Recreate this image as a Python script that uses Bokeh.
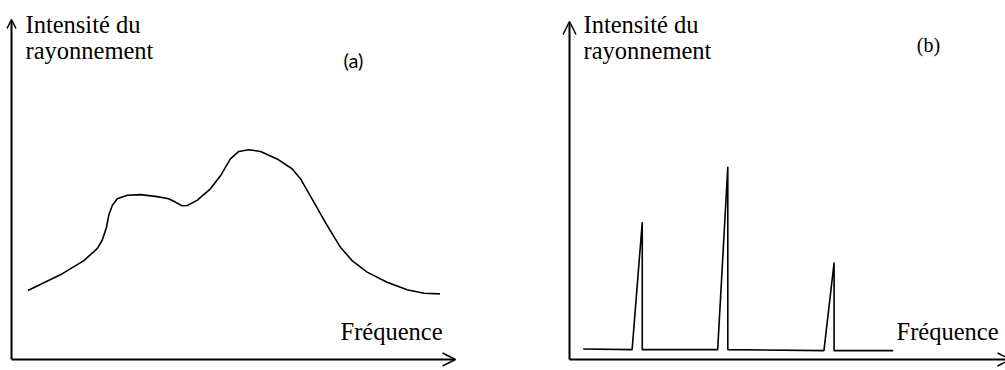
from bokeh.plotting import figure
from bokeh.models import Range1d, Arrow, OpenHead, Label
from bokeh.embed import file_html
from bokeh.resources import INLINE

# ---------------- data (arbitrary units: frequency 0-100, intensity 0-100) -------------
# Panel (a): continuous spectrum
freq_a = [3.7, 11.0, 16.3, 19.3, 20.4, 21.4, 21.9, 22.7, 23.8, 26.1, 29.1, 32.8, 35.4,
          36.9, 38.4, 39.6, 41.8, 44.8, 47.1, 49.3, 51.2, 53.4, 56.1, 59.8, 63.2, 65.1,
          68.1, 71.1, 74.1, 76.7, 80.1, 84.6, 89.1, 92.9, 96.5]
intens_a = [20.3, 24.9, 29.1, 32.6, 35.0, 38.9, 42.4, 45.3, 47.3, 48.3, 48.5, 47.9, 47.3,
            46.3, 45.2, 45.3, 46.8, 50.2, 54.1, 59.0, 61.2, 61.7, 61.2, 59.0, 56.1, 53.1,
            46.3, 39.4, 33.0, 29.1, 25.7, 22.7, 20.5, 19.5, 19.3]

# Panel (b): line spectrum
freq_b = [3.1, 14.2, 16.5, 16.5, 33.6, 35.9, 35.9, 57.7, 60.0, 60.0, 73.4]
intens_b = [3.1, 2.9, 40.4, 2.9, 2.9, 56.7, 2.9, 2.6, 28.5, 2.6, 2.6]

y_label_lines = ["Intensité du", "rayonnement"]
x_label = "Fréquence"
panel_tags = ["(a)", "(b)"]

# ---------------- layout (page pixels) ----------------
W, H = 1005, 370
A_X0, A_X1 = 11, 455     # panel a: frequency 0 -> 100
B_X0, B_X1 = 569, 1010   # panel b: frequency 0 -> 100
Y0, Y1 = 359, 19         # intensity 0 -> 100

sx_a = (A_X1 - A_X0) / 100.0
sx_b = (B_X1 - B_X0) / 100.0
sy = (Y0 - Y1) / 100.0


def ax(px):
    return (px - A_X0) / sx_a


def bx(px):
    return (px - B_X0) / sx_b


def yy(py):
    return (Y0 - py) / sy


p = figure(width=W, height=H,
           x_range=Range1d(ax(0), ax(W)),
           y_range=Range1d(yy(H), yy(0)),
           x_axis_type=None, y_axis_type=None,
           output_backend="svg", toolbar_location=None,
           min_border=0, outline_line_color=None)
p.extra_x_ranges = {"b": Range1d(bx(0), bx(W))}
p.background_fill_color = "white"
p.border_fill_color = "white"

# curves
p.line(freq_a, intens_a, line_width=1.6, line_color="black")
p.line(freq_b, intens_b, line_width=1.6, line_color="black", x_range_name="b")

# axes with arrow heads
p.add_layout(Arrow(x_start=0, y_start=0, x_end=0, y_end=100, line_width=2,
                   end=OpenHead(size=9, line_width=1.5)))
p.add_layout(Arrow(x_start=0, y_start=0, x_end=100, y_end=0, line_width=2,
                   end=OpenHead(size=13, line_width=1.5)))
p.add_layout(Arrow(x_start=0, y_start=0, x_end=0, y_end=yy(21), line_width=2,
                   x_range_name="b", end=OpenHead(size=13, line_width=1.5)))
p.add_layout(Arrow(x_start=0, y_start=0, x_end=100, y_end=0, line_width=2,
                   x_range_name="b", end=OpenHead(size=13, line_width=1.5)))

SERIF = "Liberation Serif"
FS = "24.5px"

# y labels
for xf, x0 in ((ax, 25), (bx, 583)):
    rn = "b" if xf is bx else "default"
    for line, mid in zip(y_label_lines, (23.5, 49.5)):
        p.add_layout(Label(x=xf(x0), y=yy(mid), text=line, x_range_name=rn,
                           text_font=SERIF, text_font_size=FS,
                           text_baseline="middle", text_align="left",
                           text_color="black"))

# x labels
p.add_layout(Label(x=ax(340), y=yy(331), text=x_label, text_font=SERIF,
                   text_font_size=FS, text_baseline="middle",
                   text_align="left", text_color="black"))
p.add_layout(Label(x=bx(896), y=yy(331), text=x_label, x_range_name="b",
                   text_font=SERIF, text_font_size=FS,
                   text_baseline="middle", text_align="left",
                   text_color="black"))

# panel tags
p.add_layout(Label(x=ax(353), y=yy(59), text=panel_tags[0], text_font="Lato",
                   text_font_size="20px", text_baseline="middle",
                   text_align="center", text_color="black"))
p.add_layout(Label(x=bx(928), y=yy(44), text=panel_tags[1], x_range_name="b",
                   text_font=SERIF, text_font_size="20px", text_baseline="middle",
                   text_align="center", text_color="black"))

open("out.html", "w").write(file_html(p, INLINE))
